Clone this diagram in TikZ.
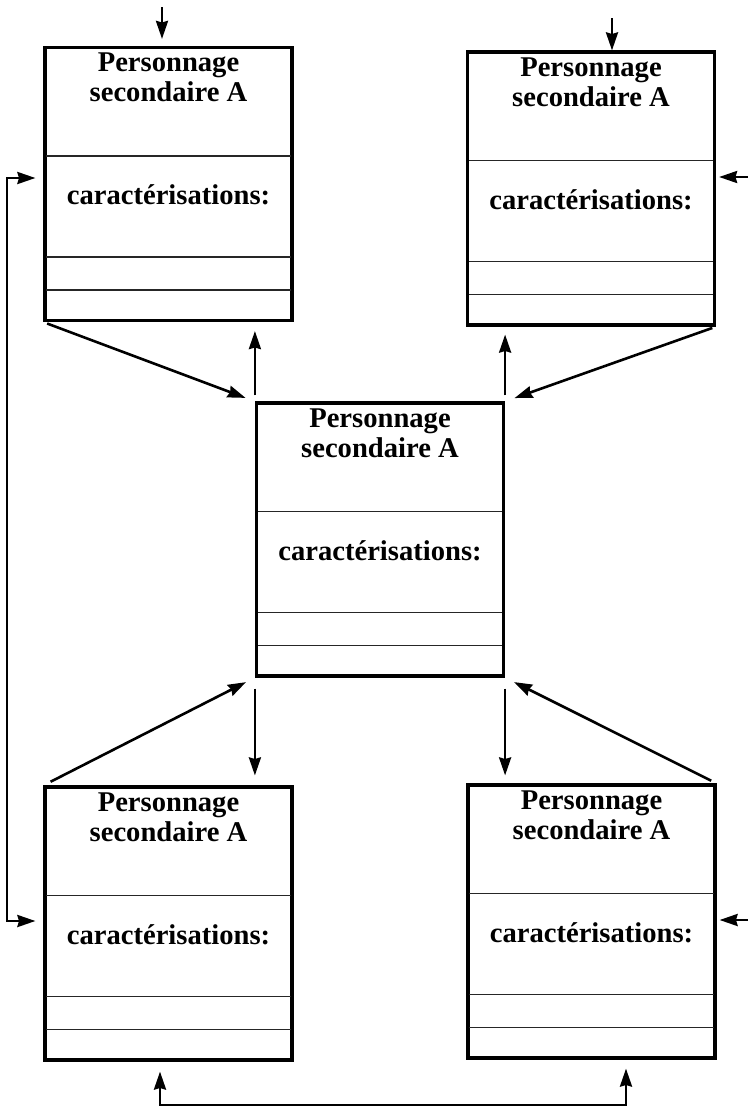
\documentclass[tikz,border=0pt]{standalone}
\usepackage{fontspec}
\setmainfont{Liberation Serif}
\usetikzlibrary{arrows.meta}

\begin{document}
\begin{tikzpicture}[
            x=0.5pt, y=-0.5pt,
            pointe/.tip={Stealth[length=9pt,width=6pt,inset=0.8pt]},
            boite/.style={draw, line width=1.6pt, minimum width=123.5pt, minimum height=136.5pt, inner sep=0pt},
            fleche/.style={-pointe, line width=1.3pt},
            aller retour/.style={pointe-pointe, line width=1.3pt},
            trait/.style={line width=0.8pt, black!85},
            texte/.style={anchor=base, inner sep=0pt, font=\fontsize{14.3}{15}\selectfont\bfseries}
        ]
        \useasboundingbox (0,0) rectangle (748,1114);
        \node[boite] (hg) at (168.5,184) {};
        \node[boite] (hd) at (591,188.5) {};
        \node[boite] (centre) at (380,539.5) {};
        \node[boite] (bg) at (168.5,923.5) {};
        \node[boite] (bd) at (591.5,921.5) {};
        \foreach \b in {hg,hd,centre,bg,bd} {
            \node[texte] (\b-nom) at ([yshift=-13pt]\b.north) {Personnage};
            \node[texte] (\b-role) at ([yshift=-28pt]\b.north) {secondaire A};
            \node[texte] (\b-carac) at ([yshift=-79.5pt]\b.north) {caractérisations:};
            \foreach \d in {55pt,105.5pt,122pt}
                \draw[trait] ([shift={(1.5pt,-\d)}]\b.north west) -- ([shift={(-1.5pt,-\d)}]\b.north east);
        }
        \coordinate (entreeHG) at (162,7);
        \coordinate (entreeHD) at (612,18);
        \coordinate (boucleH) at (7,178);
        \coordinate (boucleB) at (7,921);
        \coordinate (bordHD) at (748,177);
        \coordinate (bordBD) at (748,920);
        \coordinate (basG) at (160,1105);
        \coordinate (basD) at (626,1105);
        % entrees et boucles
        \draw[fleche, shorten >=3.5pt] (entreeHG) -- (entreeHG |- hg.north);
        \draw[fleche] (entreeHD) -- (entreeHD |- hd.north);
        \draw[aller retour, shorten <=4pt, shorten >=4pt] (boucleH -| hg.west) -- (boucleH) -- (boucleB) -- (boucleB -| bg.west);
        \draw[fleche, shorten >=1.5pt] (bordHD) -- (bordHD -| hd.east);
        \draw[fleche, shorten >=1.5pt] (bordBD) -- (bordBD -| bd.east);
        \draw[aller retour, shorten <=5pt, shorten >=4.5pt] (basG |- bg.south) -- (basG) -- (basD) -- (basD |- bd.south);
        % vers le centre
        \draw[fleche, shorten <=2pt, shorten >=5pt] (hg.south west) -- (centre.north west);
        \draw[fleche, shorten <=2pt, shorten >=5pt] (hd.south east) -- (centre.north east);
        \draw[fleche, shorten <=4pt, shorten >=5pt] (bg.north west) -- (centre.south west);
        \draw[fleche, shorten <=3pt, shorten >=5pt] (bd.north east) -- (centre.south east);
        % depuis le centre
        \draw[fleche, shorten <=3pt, shorten >=4.5pt] (centre.north west) -- (centre.north west |- hg.south);
        \draw[fleche, shorten <=3pt, shorten >=4pt] (centre.north east) -- (centre.north east |- hd.south);
        \draw[fleche, shorten <=5.5pt, shorten >=5pt] (centre.south west) -- (centre.south west |- bg.north);
        \draw[fleche, shorten <=5.5pt, shorten >=4pt] (centre.south east) -- (centre.south east |- bd.north);
    \end{tikzpicture}
\end{document}
